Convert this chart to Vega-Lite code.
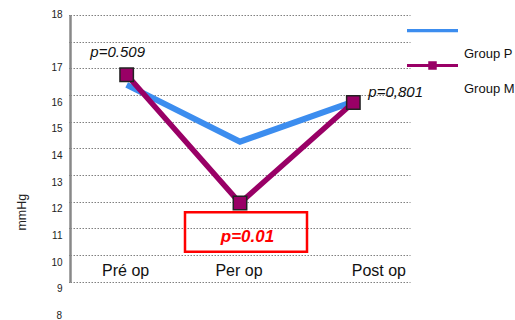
{
  "$schema": "https://vega.github.io/schema/vega-lite/v6.json",
  "width": 340,
  "height": 266.7,
  "autosize": "none",
  "padding": {"left": 70, "top": 15, "right": 105, "bottom": 38.3},
  "background": "white",
  "config": {"view": {"stroke": null}, "font": "Liberation Sans"},
  "datasets": {
    "series": [
      {"group": "Group P", "stage": "Pré op", "value": 16.38},
      {"group": "Group P", "stage": "Per op", "value": 14.25},
      {"group": "Group P", "stage": "Post op", "value": 15.75},
      {"group": "Group M", "stage": "Pré op", "value": 16.76},
      {"group": "Group M", "stage": "Per op", "value": 11.95},
      {"group": "Group M", "stage": "Post op", "value": 15.72}
    ]
  },
  "encoding": {
    "x": {
      "field": "stage",
      "type": "nominal",
      "scale": {"type": "point", "domain": ["Pré op", "Per op", "Post op"], "padding": 0.5},
      "axis": {
        "title": null,
        "domain": false,
        "ticks": false,
        "tickSize": 0,
        "grid": false,
        "labelAngle": 0,
        "labelFontSize": 16,
        "labelColor": "#111",
        "labelPadding": -11.7,
        "labelBaseline": "middle",
        "labelOffset": {"condition": {"test": "datum.value == 'Post op'", "value": 25}, "value": -1.5}
      }
    },
    "y": {
      "field": "value",
      "type": "quantitative",
      "scale": {"domain": [9, 19], "nice": false, "zero": false},
      "axis": {
        "title": "mmHg",
        "titleFontSize": 12.5,
        "titleFontWeight": "normal",
        "titleColor": "#222",
        "titleX": -48.3,
        "titleY": 196.7,
        "titleAlign": "center",
        "titleBaseline": "middle",
        "values": [9, 10, 11, 12, 13, 14, 15, 16, 17, 18, 19],
        "labelExpr": "datum.value == 19 ? '18' : datum.value == 18 ? '' : datum.label",
        "labelOffset": {"condition": {"test": "datum.value >= 17", "value": -1}, "value": 7},
        "labelOverlap": false,
        "labelFlush": false,
        "labelBound": false,
        "labelFontSize": 10,
        "labelColor": "#222",
        "labelPadding": 5,
        "grid": true,
        "gridColor": "#808080",
        "gridDash": [1.5, 1.5],
        "gridWidth": 1.2,
        "ticks": true,
        "tickSize": 3,
        "tickColor": "#808080",
        "tickDash": [1.5, 1.5],
        "tickWidth": 1.2,
        "domainColor": "#888888",
        "domainWidth": 2.5
      }
    }
  },
  "layer": [
    {
      "data": {"name": "series"},
      "transform": [{"filter": "datum.group == 'Group P'"}],
      "mark": {"type": "line", "color": "#3C8DEF", "strokeWidth": 6, "strokeJoin": "miter"}
    },
    {
      "data": {"name": "series"},
      "transform": [{"filter": "datum.group == 'Group M'"}],
      "mark": {"type": "line", "color": "#990066", "strokeWidth": 5.5, "strokeJoin": "miter"}
    },
    {
      "data": {"name": "series"},
      "mark": {"type": "point", "filled": true, "opacity": 0},
      "encoding": {
        "color": {
          "field": "group",
          "type": "nominal",
          "scale": {"domain": ["Group P", "Group M"], "range": ["#3C8DEF", "#990066"]},
          "legend": {
            "orient": "none", "legendX": 354, "legendY": 30, "title": null,
            "symbolSize": 289, "symbolOpacity": 1, "symbolStrokeWidth": 0,
            "labelOffset": 23, "labelFontSize": 13, "labelColor": "#111",
            "labelBaseline": "middle",
            "rowPadding": 0, "padding": 0, "labelLimit": 200
          }
        },
        "shape": {
          "field": "group",
          "type": "nominal",
          "scale": {
            "domain": ["Group P", "Group M"],
            "range": ["M-3,-2.89H3V-2.51H-3Z", "M-3,-2.88H-0.5V-3.2H0.5V-2.88H3V-2.52H0.5V-2.2H-0.5V-2.52H-3Z"]
          },
          "legend": {
            "orient": "none", "legendX": 354, "legendY": 30, "title": null,
            "symbolSize": 289, "symbolOpacity": 1, "symbolStrokeWidth": 0,
            "labelOffset": 23, "labelFontSize": 13, "labelColor": "#111",
            "labelBaseline": "middle",
            "rowPadding": 0, "padding": 0, "labelLimit": 200
          }
        }
      }
    },
    {
      "data": {"name": "series"},
      "transform": [{"filter": "datum.group == 'Group M'"}],
      "mark": {"type": "point", "shape": "square", "filled": true, "size": 180, "fill": "#990066", "stroke": "#222222", "strokeWidth": 1.5, "opacity": 1}
    },
    {
      "data": {"values": [{"stage": "Per op", "value": 11.6, "value2": 10.125}]},
      "mark": {"type": "rect", "width": 122, "xOffset": 6, "fill": "transparent", "stroke": "#ff0000", "strokeWidth": 2.5},
      "encoding": {"y2": {"field": "value2"}}
    },
    {
      "data": {"values": [{"stage": "Pré op", "value": 17.61, "label": "p=0.509"}]},
      "mark": {"type": "text", "align": "center", "baseline": "middle", "dx": -9, "fontSize": 15, "fontStyle": "italic", "color": "#111"},
      "encoding": {"text": {"field": "label"}}
    },
    {
      "data": {"values": [{"stage": "Post op", "value": 16.12, "label": "p=0,801"}]},
      "mark": {"type": "text", "align": "left", "baseline": "middle", "dx": 15, "fontSize": 15, "fontStyle": "italic", "color": "#111"},
      "encoding": {"text": {"field": "label"}}
    },
    {
      "data": {"values": [{"stage": "Per op", "value": 10.69, "label": "p=0.01"}]},
      "mark": {"type": "text", "align": "center", "baseline": "middle", "dx": 7.5, "fontSize": 17, "fontStyle": "italic", "fontWeight": "bold", "color": "#ff0000"},
      "encoding": {"text": {"field": "label"}}
    },
    {
      "data": {"values": [{"stage": "Pré op", "value": 7.725, "label": "8"}]},
      "mark": {"type": "text", "align": "right", "baseline": "middle", "dx": -64.7, "fontSize": 10, "color": "#222"},
      "encoding": {"text": {"field": "label"}}
    }
  ]
}
